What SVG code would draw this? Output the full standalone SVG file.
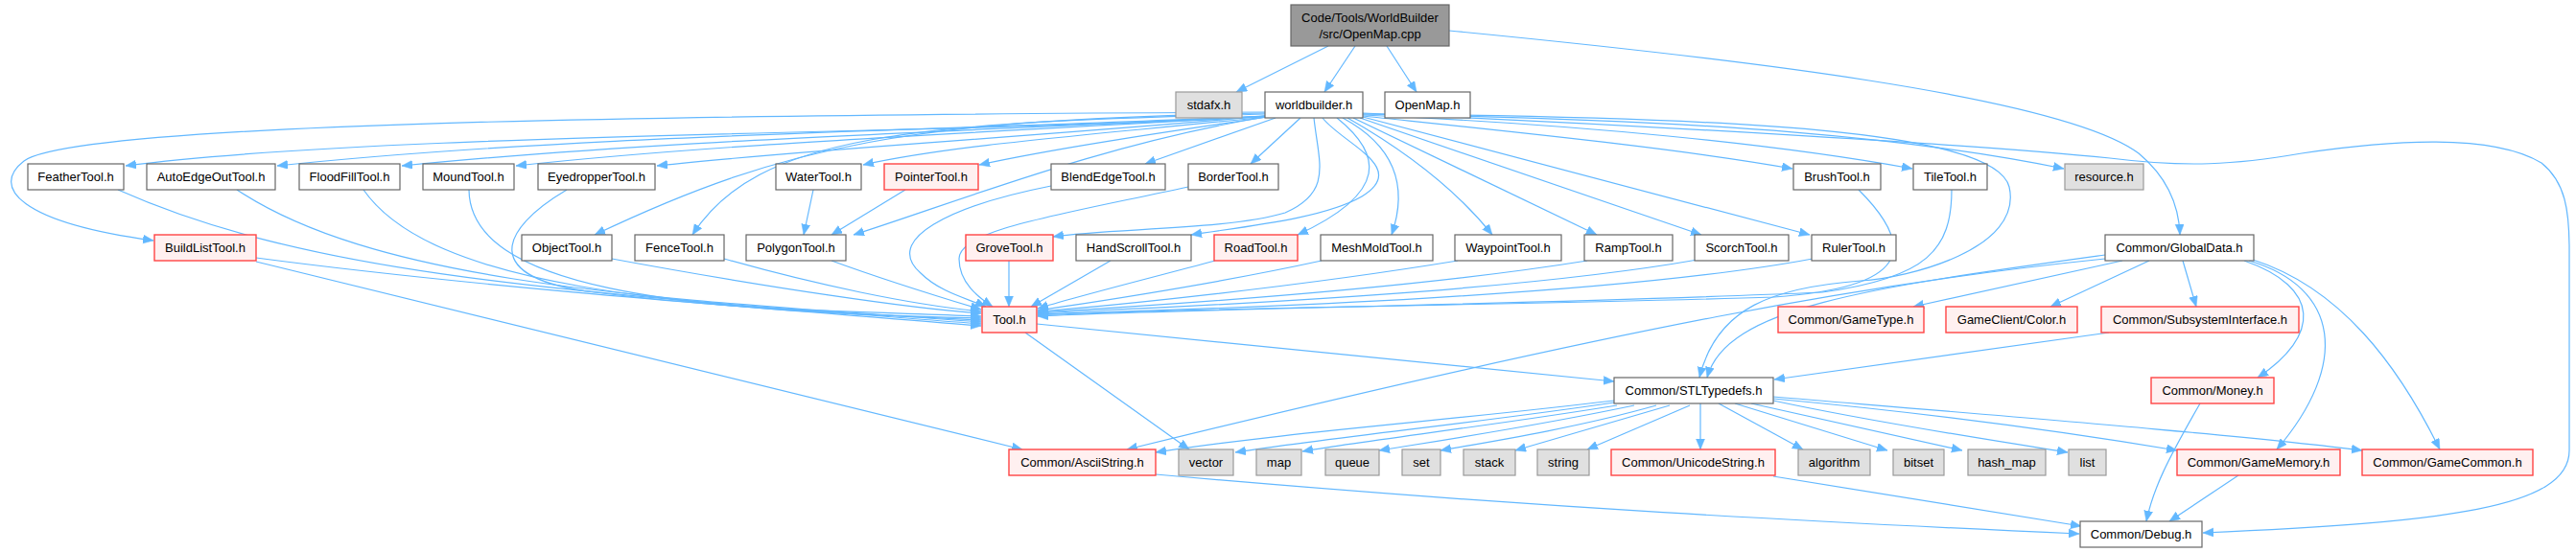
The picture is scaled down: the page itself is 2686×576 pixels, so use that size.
<svg xmlns="http://www.w3.org/2000/svg" width="2686" height="576" viewBox="0 0 2686 576">
<style>
text{font-family:"Liberation Sans",Arial,sans-serif;font-size:13px;fill:#000;text-anchor:middle}
.n rect{fill:#fff;stroke:#666;stroke-width:1.2}
.r rect{fill:#fff0f0;stroke:#ff4444;stroke-width:1.4}
.g rect{fill:#e0e0e0;stroke:#999;stroke-width:1.2}
.m rect{fill:#999;stroke:#666;stroke-width:1.2}
#edges path{fill:none;stroke:#63b8ff;stroke-width:1.2;marker-end:url(#ah)}
</style>
<defs>
<marker id="ah" markerUnits="userSpaceOnUse" markerWidth="12" markerHeight="10" refX="11" refY="4.5" orient="auto">
<path d="M0,0 L11,4.5 L0,9 z" fill="#63b8ff" stroke="#63b8ff" stroke-width="0.5"/>
</marker>
</defs>
<rect width="2686" height="576" fill="#fff"/>
<g id="edges">
<path d="M1385,48 L1289,96"/>
<path d="M1413,48 L1381,96"/>
<path d="M1446,48 L1477,96"/>
<path d="M1511,32 C1800,60 2150,100 2230,160 C2260,185 2272,215 2273,245"/>
<path d="M1320,122 C1000,140 400,138 131,173"/>
<path d="M1320,121 C1000,136 600,140 289,173"/>
<path d="M1320,121 C1000,138 700,145 419,173"/>
<path d="M1320,121 C1000,140 750,150 538,173"/>
<path d="M1320,121 C1050,145 850,155 685,173"/>
<path d="M1320,122 C1150,140 1000,150 900,172"/>
<path d="M1322,122 C1200,140 1100,155 1021,172"/>
<path d="M1330,123 L1194,171"/>
<path d="M1356,123 L1304,171"/>
<path d="M1319,117 C700,120 80,128 25,168 C-10,195 20,232 160,251"/>
<path d="M1319,118 C950,125 820,150 620,245"/>
<path d="M1319,119 C950,128 790,140 722,245"/>
<path d="M1320,122 C1150,150 1000,210 890,245"/>
<path d="M1370,123 C1375,170 1390,200 1340,222 C1280,240 1160,238 1098,247"/>
<path d="M1379,123 C1400,150 1470,175 1420,205 C1380,228 1300,236 1242,245"/>
<path d="M1394,123 C1440,160 1450,200 1353,245"/>
<path d="M1400,123 C1450,150 1470,190 1451,245"/>
<path d="M1405,123 C1470,160 1520,200 1556,245"/>
<path d="M1411,123 L1665,245"/>
<path d="M1418,123 L1774,245"/>
<path d="M1421,122 L1887,245"/>
<path d="M1421,121 C1600,140 1750,155 1869,176"/>
<path d="M1421,120 C1650,130 1850,150 1994,176"/>
<path d="M1421,119 C1800,125 2000,145 2152,176"/>
<path d="M1421,119 C1800,122 2080,135 2095,195 C2110,260 1990,290 1940,293 C1850,300 1790,320 1772,394"/>
<path d="M1421,118 C1700,130 2050,150 2200,165 C2280,175 2330,172 2400,160 C2500,145 2600,140 2650,170 C2675,190 2679,220 2679,260 L2679,470 C2679,530 2550,545 2297,556"/>
<path d="M944,198 L867,245"/>
<path d="M848,198 L838,245"/>
<path d="M123,198 C330,290 600,305 1023,338"/>
<path d="M247,198 C400,300 700,312 1023,336"/>
<path d="M379,198 C450,300 700,320 1023,334"/>
<path d="M489,198 C490,300 700,325 1023,332"/>
<path d="M591,198 C520,240 500,290 620,305 C780,325 900,325 1023,330"/>
<path d="M267,269 C500,300 800,322 1023,340"/>
<path d="M638,270 C800,300 950,322 1023,327"/>
<path d="M755,270 C850,297 950,318 1023,325"/>
<path d="M867,272 C930,295 980,310 1023,323"/>
<path d="M1096,194 C990,215 920,250 960,285 C980,305 1010,312 1028,320"/>
<path d="M1239,195 C1100,225 1000,240 1000,270 C1000,295 1020,310 1035,320"/>
<path d="M1052,272 L1052,320"/>
<path d="M1158,272 L1075,320"/>
<path d="M1267,272 C1200,290 1120,310 1082,322"/>
<path d="M1378,272 C1250,300 1120,318 1082,324"/>
<path d="M1520,272 C1350,300 1150,320 1082,325"/>
<path d="M1655,272 C1450,305 1150,322 1082,326"/>
<path d="M1770,271 C1550,310 1150,323 1082,327"/>
<path d="M1890,270 C1650,315 1150,325 1082,328"/>
<path d="M1938,198 C2000,260 1990,300 1850,310 C1600,318 1200,322 1082,329"/>
<path d="M2035,198 C2035,260 2010,290 1900,305 C1600,318 1200,323 1082,330"/>
<path d="M267,273 L1066,469"/>
<path d="M1081,338 L1683,398"/>
<path d="M1069,347 L1240,469"/>
<path d="M2195,266 C1950,300 1800,320 1780,394"/>
<path d="M2195,270 C1950,295 1700,340 1175,469"/>
<path d="M2213,272 L1995,320"/>
<path d="M2241,272 L2138,320"/>
<path d="M2276,272 L2290,320"/>
<path d="M2340,272 C2420,300 2420,350 2354,394"/>
<path d="M2345,272 C2440,300 2450,380 2374,469"/>
<path d="M2349,271 C2440,300 2500,380 2544,469"/>
<path d="M2199,347 L1850,396"/>
<path d="M1683,418 C1500,440 1350,450 1205,472"/>
<path d="M1683,420 C1550,440 1400,455 1288,472"/>
<path d="M1686,423 C1550,445 1420,460 1358,471"/>
<path d="M1704,423 C1600,445 1500,460 1438,470"/>
<path d="M1727,423 C1650,445 1560,460 1502,470"/>
<path d="M1741,423 L1580,470"/>
<path d="M1762,423 L1655,469"/>
<path d="M1773,421 L1773,469"/>
<path d="M1792,421 L1880,469"/>
<path d="M1809,421 L1968,470"/>
<path d="M1826,421 L2046,470"/>
<path d="M1849,418 C1950,440 2080,460 2156,472"/>
<path d="M1849,416 C2000,430 2150,450 2270,470"/>
<path d="M1849,414 C2100,435 2350,455 2463,470"/>
<path d="M1205,495 C1600,530 1900,545 2168,557"/>
<path d="M1849,497 L2170,549"/>
<path d="M2294,421 C2260,480 2245,510 2238,544"/>
<path d="M2334,496 L2262,544"/>
</g>
<g id="node-main" class="m"><rect x="1346" y="5" width="165" height="43"/><text x="1428.5" y="23">Code/Tools/WorldBuilder</text><text x="1428.5" y="40">/src/OpenMap.cpp</text></g>
<g id="node-stdafx" class="g"><rect x="1226" y="96" width="69" height="27"/><text x="1260.5" y="114">stdafx.h</text></g>
<g id="node-worldbuilder" class="n"><rect x="1319" y="96" width="102" height="27"/><text x="1370" y="114">worldbuilder.h</text></g>
<g id="node-openmap" class="n"><rect x="1444" y="96" width="89" height="27"/><text x="1488.5" y="114">OpenMap.h</text></g>
<g id="node-feather" class="n"><rect x="29" y="171" width="100" height="27"/><text x="79" y="189">FeatherTool.h</text></g>
<g id="node-autoedge" class="n"><rect x="153" y="171" width="134" height="27"/><text x="220" y="189">AutoEdgeOutTool.h</text></g>
<g id="node-floodfill" class="n"><rect x="312" y="171" width="105" height="27"/><text x="364.5" y="189">FloodFillTool.h</text></g>
<g id="node-mound" class="n"><rect x="441" y="171" width="95" height="27"/><text x="488.5" y="189">MoundTool.h</text></g>
<g id="node-eyedropper" class="n"><rect x="561" y="171" width="122" height="27"/><text x="622" y="189">EyedropperTool.h</text></g>
<g id="node-water" class="n"><rect x="809" y="171" width="89" height="27"/><text x="853.5" y="189">WaterTool.h</text></g>
<g id="node-pointer" class="r"><rect x="922" y="171" width="98" height="27"/><text x="971" y="189">PointerTool.h</text></g>
<g id="node-blendedge" class="n"><rect x="1096" y="171" width="119" height="27"/><text x="1155.5" y="189">BlendEdgeTool.h</text></g>
<g id="node-border" class="n"><rect x="1239" y="171" width="94" height="27"/><text x="1286" y="189">BorderTool.h</text></g>
<g id="node-brush" class="n"><rect x="1870" y="171" width="91" height="27"/><text x="1915.5" y="189">BrushTool.h</text></g>
<g id="node-tile" class="n"><rect x="1995" y="171" width="77" height="27"/><text x="2033.5" y="189">TileTool.h</text></g>
<g id="node-resource" class="g"><rect x="2153" y="171" width="82" height="27"/><text x="2194" y="189">resource.h</text></g>
<g id="node-buildlist" class="r"><rect x="161" y="245" width="106" height="27"/><text x="214" y="263">BuildListTool.h</text></g>
<g id="node-object" class="n"><rect x="544" y="245" width="94" height="27"/><text x="591" y="263">ObjectTool.h</text></g>
<g id="node-fence" class="n"><rect x="662" y="245" width="93" height="27"/><text x="708.5" y="263">FenceTool.h</text></g>
<g id="node-polygon" class="n"><rect x="778" y="245" width="104" height="27"/><text x="830" y="263">PolygonTool.h</text></g>
<g id="node-grove" class="r"><rect x="1007" y="245" width="91" height="27"/><text x="1052.5" y="263">GroveTool.h</text></g>
<g id="node-handscroll" class="n"><rect x="1122" y="245" width="120" height="27"/><text x="1182" y="263">HandScrollTool.h</text></g>
<g id="node-road" class="r"><rect x="1266" y="245" width="87" height="27"/><text x="1309.5" y="263">RoadTool.h</text></g>
<g id="node-meshmold" class="n"><rect x="1377" y="245" width="117" height="27"/><text x="1435.5" y="263">MeshMoldTool.h</text></g>
<g id="node-waypoint" class="n"><rect x="1517" y="245" width="111" height="27"/><text x="1572.5" y="263">WaypointTool.h</text></g>
<g id="node-ramp" class="n"><rect x="1652" y="245" width="92" height="27"/><text x="1698" y="263">RampTool.h</text></g>
<g id="node-scorch" class="n"><rect x="1767" y="245" width="98" height="27"/><text x="1816" y="263">ScorchTool.h</text></g>
<g id="node-ruler" class="n"><rect x="1889" y="245" width="88" height="27"/><text x="1933" y="263">RulerTool.h</text></g>
<g id="node-globaldata" class="n"><rect x="2195" y="245" width="155" height="27"/><text x="2272.5" y="263">Common/GlobalData.h</text></g>
<g id="node-tool" class="r"><rect x="1024" y="320" width="57" height="27"/><text x="1052.5" y="338">Tool.h</text></g>
<g id="node-gametype" class="r"><rect x="1854" y="320" width="152" height="27"/><text x="1930" y="338">Common/GameType.h</text></g>
<g id="node-color" class="r"><rect x="2029" y="320" width="137" height="27"/><text x="2097.5" y="338">GameClient/Color.h</text></g>
<g id="node-subsystem" class="r"><rect x="2191" y="320" width="206" height="27"/><text x="2294" y="338">Common/SubsystemInterface.h</text></g>
<g id="node-stltypedefs" class="n"><rect x="1683" y="394" width="166" height="27"/><text x="1766" y="412">Common/STLTypedefs.h</text></g>
<g id="node-money" class="r"><rect x="2243" y="394" width="128" height="27"/><text x="2307" y="412">Common/Money.h</text></g>
<g id="node-asciistring" class="r"><rect x="1052" y="469" width="153" height="27"/><text x="1128.5" y="487">Common/AsciiString.h</text></g>
<g id="node-vector" class="g"><rect x="1229" y="469" width="57" height="27"/><text x="1257.5" y="487">vector</text></g>
<g id="node-map" class="g"><rect x="1310" y="469" width="47" height="27"/><text x="1333.5" y="487">map</text></g>
<g id="node-queue" class="g"><rect x="1382" y="469" width="56" height="27"/><text x="1410" y="487">queue</text></g>
<g id="node-set" class="g"><rect x="1462" y="469" width="40" height="27"/><text x="1482" y="487">set</text></g>
<g id="node-stack" class="g"><rect x="1526" y="469" width="54" height="27"/><text x="1553" y="487">stack</text></g>
<g id="node-string" class="g"><rect x="1603" y="469" width="54" height="27"/><text x="1630" y="487">string</text></g>
<g id="node-unicodestring" class="r"><rect x="1680" y="469" width="171" height="27"/><text x="1765.5" y="487">Common/UnicodeString.h</text></g>
<g id="node-algorithm" class="g"><rect x="1875" y="469" width="75" height="27"/><text x="1912.5" y="487">algorithm</text></g>
<g id="node-bitset" class="g"><rect x="1974" y="469" width="53" height="27"/><text x="2000.5" y="487">bitset</text></g>
<g id="node-hashmap" class="g"><rect x="2052" y="469" width="81" height="27"/><text x="2092.5" y="487">hash_map</text></g>
<g id="node-list" class="g"><rect x="2157" y="469" width="39" height="27"/><text x="2176.5" y="487">list</text></g>
<g id="node-gamememory" class="r"><rect x="2270" y="469" width="170" height="27"/><text x="2355" y="487">Common/GameMemory.h</text></g>
<g id="node-gamecommon" class="r"><rect x="2463" y="469" width="178" height="27"/><text x="2552" y="487">Common/GameCommon.h</text></g>
<g id="node-debug" class="n"><rect x="2169" y="544" width="127" height="27"/><text x="2232.5" y="562">Common/Debug.h</text></g>
</svg>
